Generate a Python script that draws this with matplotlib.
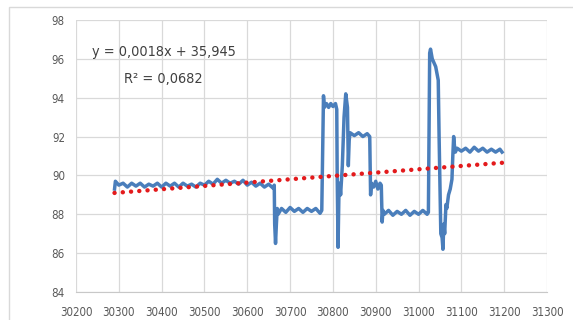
import numpy as np
import matplotlib
matplotlib.use('Agg')
import matplotlib.pyplot as plt
from matplotlib.patches import Rectangle

x_data = [30290, 30292, 30300, 30310, 30320, 30330, 30340, 30350, 30360, 30370,
          30380, 30390, 30400, 30410, 30420, 30430, 30440, 30450, 30460, 30470,
          30480, 30490, 30500, 30510, 30520, 30530, 30540, 30550, 30560, 30570,
          30580, 30590, 30600, 30610, 30620, 30630, 30640, 30650, 30660, 30663,
          30664, 30666, 30668, 30670, 30672, 30680, 30690, 30700, 30710, 30720,
          30730, 30740, 30750, 30760, 30770, 30774,
          30776, 30778, 30780, 30785, 30790, 30795, 30800, 30806, 30809, 30810,
          30812, 30814, 30816, 30818, 30822, 30826, 30830, 30834, 30836, 30838,
          30840, 30850, 30860, 30870, 30880, 30886, 30888, 30890, 30895, 30900,
          30905, 30910, 30913, 30915, 30917, 30920, 30930, 30940, 30950, 30960,
          30970, 30980, 30990, 31000, 31010, 31020, 31023, 31026, 31028, 31032,
          31040, 31046, 31048, 31052, 31055, 31057, 31059, 31061, 31064, 31066,
          31070, 31074, 31078, 31080, 31082, 31084, 31086, 31090, 31100, 31110,
          31120, 31130, 31140, 31150, 31160, 31170, 31180, 31190, 31195]
y_data = [89.3, 89.7, 89.5, 89.6, 89.4, 89.6, 89.45, 89.6, 89.4, 89.55,
          89.45, 89.6, 89.4, 89.6, 89.45, 89.6, 89.4, 89.6, 89.45, 89.55,
          89.4, 89.6, 89.5, 89.7, 89.55, 89.8, 89.6, 89.75, 89.6, 89.7,
          89.55, 89.75, 89.5, 89.65, 89.45, 89.6, 89.4, 89.55, 89.35, 89.5,
          87.5, 86.5, 87.5, 88.3, 88.0, 88.3, 88.1, 88.35, 88.15, 88.3,
          88.1, 88.3, 88.15, 88.3, 88.05, 88.2,
          91.0, 94.1, 93.5, 93.7, 93.5, 93.7, 93.55, 93.7, 93.4, 90.0,
          86.3, 89.0, 89.6, 89.0, 90.5, 93.0, 94.2, 93.5, 90.5, 91.8,
          92.2, 92.05, 92.2, 92.0, 92.15, 92.0, 89.0, 89.6, 89.4, 89.7,
          89.3, 89.6, 89.5, 87.6, 88.2, 88.0, 88.2, 87.95, 88.15, 88.0,
          88.2, 87.95, 88.15, 88.0, 88.2, 88.0, 88.1, 96.3, 96.5, 96.0,
          95.6, 94.9, 92.0, 87.0, 86.8, 86.2, 87.5, 87.0, 88.5, 88.3,
          89.0, 89.3, 89.8, 91.0, 92.0, 91.5, 91.2, 91.4, 91.25, 91.4,
          91.2, 91.45, 91.25, 91.4, 91.2, 91.35, 91.2, 91.35, 91.2]

# linear trend as drawn
trend_x = [30290, 31195]
trend_y = [89.1, 90.65]
eq_text = "y = 0,0018x + 35,945"
r2_text = "R² = 0,0682"

xticks = list(range(30200, 31301, 100))
yticks = list(range(84, 99, 2))

plt.rcParams['font.family'] = ['DejaVu Sans']
plt.rcParams['font.stretch'] = 'condensed'

fig = plt.figure(figsize=(5.73, 3.2), dpi=100)
fig.patches.append(Rectangle((9/573, -0.1), 1.2, 1 - 7/320 + 0.1, transform=fig.transFigure,
                             fill=False, edgecolor='#d9d9d9', linewidth=1.0))
ax = fig.add_axes([76/573, 1 - 292/320, 471/573, 272/320])

ax.plot(x_data, y_data, color='#4a7ebb', linewidth=2.5, solid_joinstyle='round')
ax.plot(trend_x, trend_y, color='#e31a1c', linewidth=3.2, linestyle=(0, (0.01, 1.85)),
        dash_capstyle='round')

ax.set_xlim(30200, 31300)
ax.set_ylim(84, 98)
ax.set_xticks(xticks)
ax.set_yticks(yticks)
ax.grid(True, color='#d9d9d9', linewidth=0.9)
ax.set_axisbelow(True)
for s in ax.spines.values():
    s.set_visible(False)
ax.spines['bottom'].set_visible(True)
ax.spines['bottom'].set_color('#c8c8c8')
ax.tick_params(length=0, colors='#595959', labelsize=8.3)
ax.tick_params(axis='x', pad=10)
ax.tick_params(axis='y', pad=8)

ax.text(30405, 96.35, eq_text, ha='center', va='center', fontsize=10.4, color='#404040')
ax.text(30405, 94.96, r2_text, ha='center', va='center', fontsize=10.4, color='#404040')

fig.savefig('out.png', dpi=100)
